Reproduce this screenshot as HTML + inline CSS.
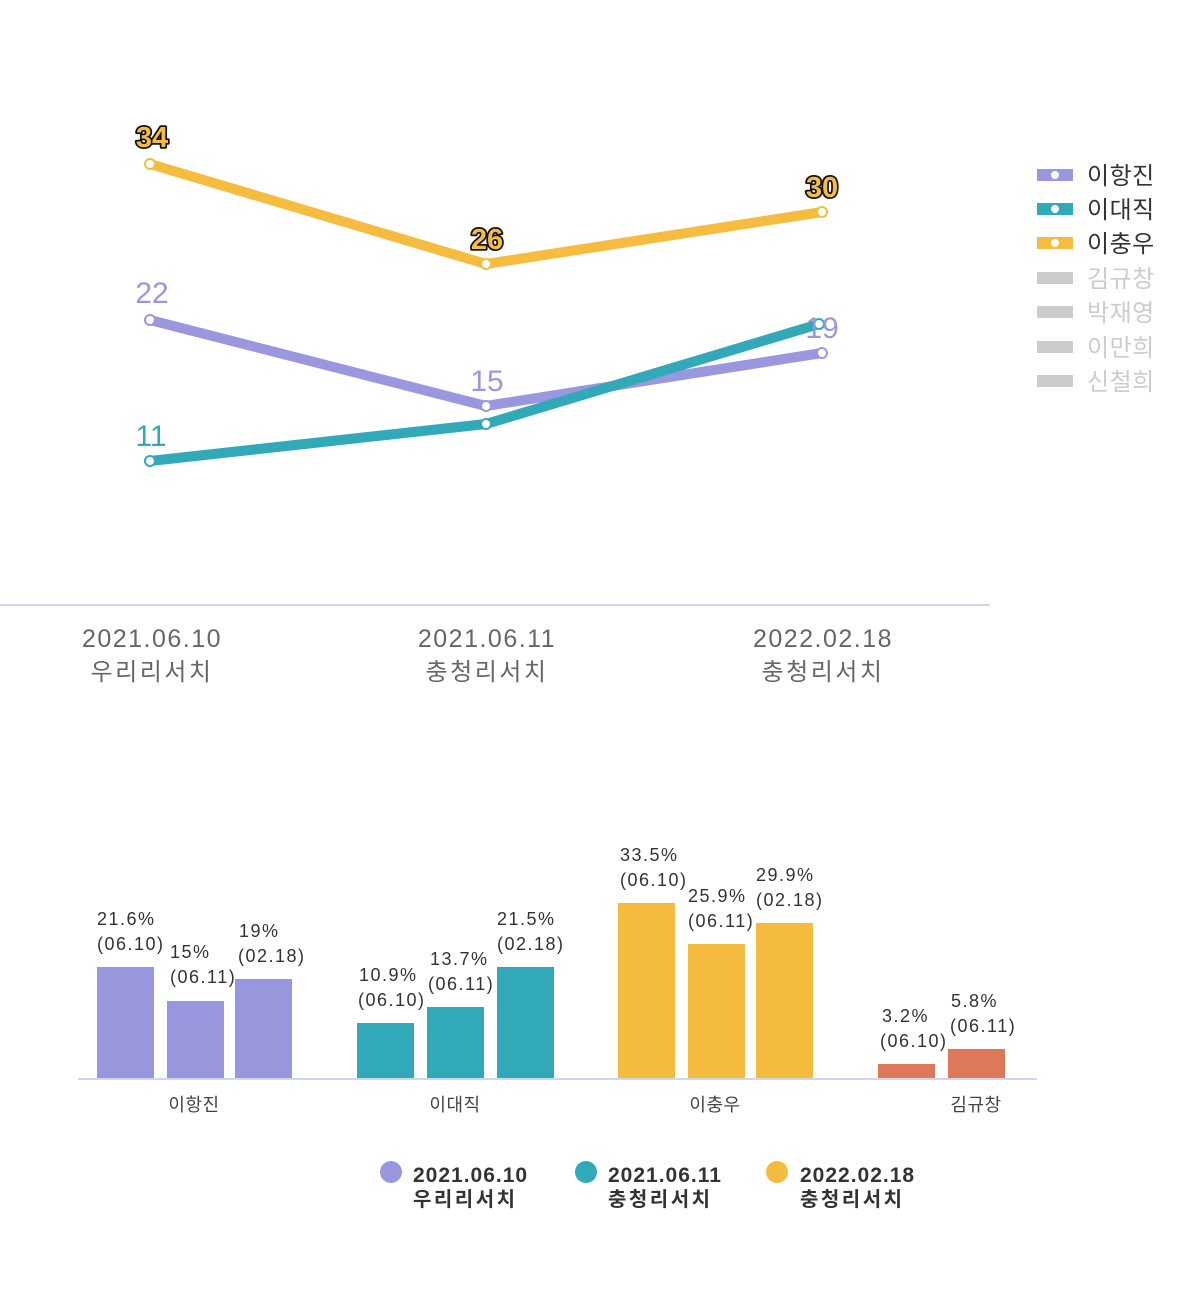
<!DOCTYPE html>
<html><head><meta charset="utf-8"><style>
html,body{margin:0;padding:0;background:#fff;}
svg{display:block;}
.k{font-family:"Liberation Sans","Noto Sans CJK KR",sans-serif;}
</style></head><body>
<svg width="1200" height="1304" viewBox="0 0 1200 1304" xmlns="http://www.w3.org/2000/svg" class="k">
<rect width="1200" height="1304" fill="#fff"/>
<!-- Line chart axis -->
<line x1="0" y1="605" x2="990" y2="605" stroke="#cdd7ee" stroke-width="2"/>
<g font-family="Liberation Sans, Noto Sans CJK KR, sans-serif" fill="#666" text-anchor="middle">
<text x="152" y="647" font-size="25" letter-spacing="1.5">2021.06.10</text>
<text x="152" y="680" font-size="24" letter-spacing="2.5">우리리서치</text>
<text x="487" y="647" font-size="25" letter-spacing="1.5">2021.06.11</text>
<text x="487" y="680" font-size="24" letter-spacing="2.5">충청리서치</text>
<text x="823" y="647" font-size="25" letter-spacing="1.5">2022.02.18</text>
<text x="823" y="680" font-size="24" letter-spacing="2.5">충청리서치</text>
</g>
<!-- Lines -->
<g fill="none" stroke-width="10" stroke-linecap="round" stroke-linejoin="round">
<polyline points="150,320 486,406 822,353" stroke="#9a97df"/>
<polyline points="150,461 486,424 819,324" stroke="#31a9b8"/>
<polyline points="150,164 486,264 822,212" stroke="#f5bc40"/>
</g>
<g fill="#fff" stroke-width="2">
<circle cx="150" cy="320" r="5" stroke="#9a97df"/>
<circle cx="486" cy="406" r="5" stroke="#9a97df"/>
<circle cx="822" cy="353" r="5" stroke="#9a97df"/>
<circle cx="150" cy="461" r="5" stroke="#31a9b8"/>
<circle cx="486" cy="424" r="5" stroke="#31a9b8"/>
<circle cx="819" cy="324" r="5" stroke="#31a9b8"/>
<circle cx="150" cy="164" r="5" stroke="#f5bc40"/>
<circle cx="486" cy="264" r="5" stroke="#f5bc40"/>
<circle cx="822" cy="212" r="5" stroke="#f5bc40"/>
</g>
<g font-family="Liberation Sans, sans-serif" font-size="30" text-anchor="middle">
<text x="152" y="303" fill="#9a97df">22</text>
<text x="487" y="391" fill="#9a97df">15</text>
<text x="822" y="338" fill="#9a97df">19</text>
<text x="151" y="446" fill="#31a9b8">11</text>
<g font-weight="bold" font-size="29" fill="#f5bc40" stroke="#111" stroke-width="3.5" paint-order="stroke" stroke-linejoin="round">
<text x="152" y="147">34</text>
<text x="487" y="249">26</text>
<text x="822" y="197">30</text>
</g>
</g>
<!-- Right legend -->
<g>
<rect x="1037" y="169" width="36" height="12" fill="#9a97df"/><circle cx="1055" cy="175" r="4" fill="#fff"/>
<rect x="1037" y="203" width="36" height="12" fill="#31a9b8"/><circle cx="1055" cy="209" r="4" fill="#fff"/>
<rect x="1037" y="237" width="36" height="12" fill="#f5bc40"/><circle cx="1055" cy="243" r="4" fill="#fff"/>
<rect x="1037" y="272" width="36" height="12" fill="#cccccc"/>
<rect x="1037" y="306" width="36" height="12" fill="#cccccc"/>
<rect x="1037" y="341" width="36" height="12" fill="#cccccc"/>
<rect x="1037" y="375" width="36" height="12" fill="#cccccc"/>
</g>
<g font-family="Liberation Sans, Noto Sans CJK KR, sans-serif" font-size="24" letter-spacing="0.5">
<text x="1087" y="184" fill="#333">이항진</text>
<text x="1087" y="218" fill="#333">이대직</text>
<text x="1087" y="252" fill="#333">이충우</text>
<text x="1087" y="287" fill="#cccccc">김규창</text>
<text x="1087" y="321" fill="#cccccc">박재영</text>
<text x="1087" y="356" fill="#cccccc">이만희</text>
<text x="1087" y="390" fill="#cccccc">신철희</text>
</g>
<!-- Bar chart -->
<g>
<rect x="97" y="967" width="57" height="111" fill="#9896dc"/>
<rect x="167" y="1001" width="57" height="77" fill="#9896dc"/>
<rect x="235" y="979" width="57" height="99" fill="#9896dc"/>
<rect x="357" y="1023" width="57" height="55" fill="#31a9b8"/>
<rect x="427" y="1007" width="57" height="71" fill="#31a9b8"/>
<rect x="497" y="967" width="57" height="111" fill="#31a9b8"/>
<rect x="618" y="903" width="57" height="175" fill="#f4bb3f"/>
<rect x="688" y="944" width="57" height="134" fill="#f4bb3f"/>
<rect x="756" y="923" width="57" height="155" fill="#f4bb3f"/>
<rect x="878" y="1064" width="57" height="14" fill="#dd785a"/>
<rect x="948" y="1049" width="57" height="29" fill="#dd785a"/>
</g>
<line x1="78" y1="1079" x2="1037" y2="1079" stroke="#cdd7ee" stroke-width="2"/>
<g font-family="Liberation Sans, sans-serif" font-size="18" fill="#333" letter-spacing="1.5">
<text x="97" y="925">21.6%</text><text x="97" y="950">(06.10)</text>
<text x="170" y="958">15%</text><text x="170" y="983">(06.11)</text>
<text x="239" y="937">19%</text><text x="238" y="962">(02.18)</text>
<text x="359" y="981">10.9%</text><text x="358" y="1006">(06.10)</text>
<text x="430" y="965">13.7%</text><text x="428" y="990">(06.11)</text>
<text x="497" y="925">21.5%</text><text x="497" y="950">(02.18)</text>
<text x="620" y="861">33.5%</text><text x="620" y="886">(06.10)</text>
<text x="688" y="902">25.9%</text><text x="688" y="927">(06.11)</text>
<text x="756" y="881">29.9%</text><text x="756" y="906">(02.18)</text>
<text x="882" y="1022">3.2%</text><text x="880" y="1047">(06.10)</text>
<text x="951" y="1007">5.8%</text><text x="950" y="1032">(06.11)</text>
</g>
<g font-family="Liberation Sans, Noto Sans CJK KR, sans-serif" font-size="18" fill="#444" text-anchor="middle" letter-spacing="0.5">
<text x="194" y="1111">이항진</text>
<text x="455" y="1111">이대직</text>
<text x="715" y="1111">이충우</text>
<text x="976" y="1111">김규창</text>
</g>
<!-- Bottom legend -->
<circle cx="391" cy="1172" r="11" fill="#9896dc"/>
<circle cx="586" cy="1172" r="11" fill="#31a9b8"/>
<circle cx="777" cy="1172" r="11" fill="#f4bb3f"/>
<g font-family="Liberation Sans, Noto Sans CJK KR, sans-serif" fill="#333" font-weight="bold">
<text x="413" y="1182" font-size="21" letter-spacing="1">2021.06.10</text>
<text x="413" y="1206" font-size="20" letter-spacing="2.5">우리리서치</text>
<text x="608" y="1182" font-size="21" letter-spacing="1">2021.06.11</text>
<text x="608" y="1206" font-size="20" letter-spacing="2.5">충청리서치</text>
<text x="800" y="1182" font-size="21" letter-spacing="1">2022.02.18</text>
<text x="800" y="1206" font-size="20" letter-spacing="2.5">충청리서치</text>
</g>
</svg>
</body></html>
